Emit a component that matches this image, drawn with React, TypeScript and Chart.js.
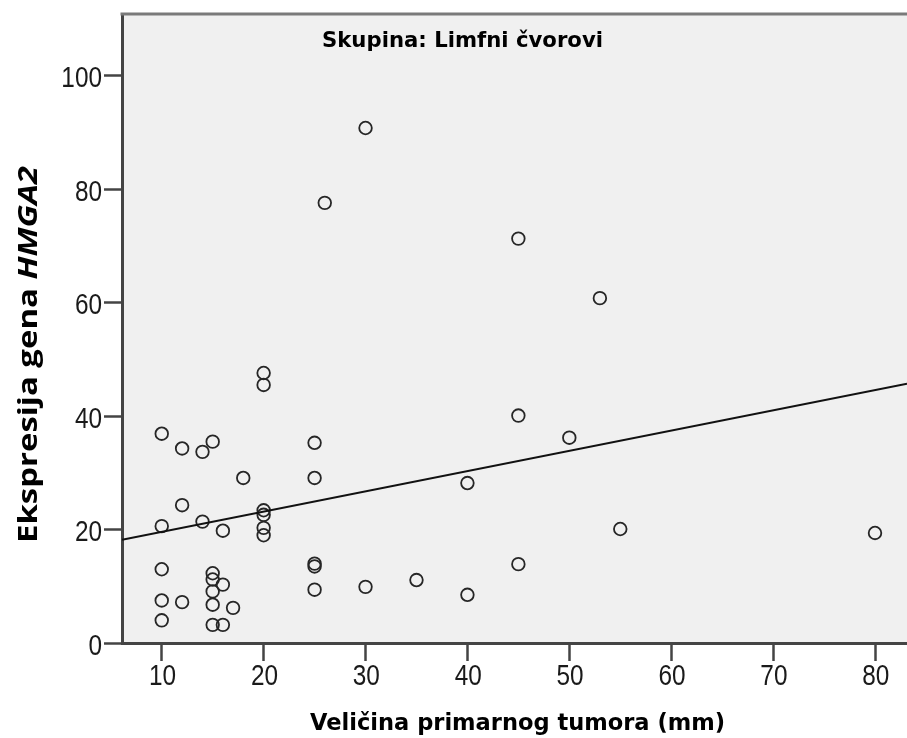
import React, { useEffect, useRef } from "react";
import { Chart, registerables } from "chart.js";

Chart.register(...registerables);

// ---- Data ----
const tumorSizeMm = [
  30, 26, 45, 53, 20, 20, 10, 12, 15, 14, 25, 45, 50, 18, 25, 12, 14, 10, 16, 20,
  20, 20, 20, 40, 55, 80, 10, 25, 25, 45, 15, 15, 16, 15, 10, 12, 15, 17, 10, 15,
  16, 25, 30, 35, 40,
];
const hmga2Expression = [
  90.8, 77.6, 71.3, 60.8, 47.6, 45.5, 36.9, 34.3, 35.5, 33.7, 35.3, 40.1, 36.2, 29.1, 29.1, 24.3, 21.4, 20.6, 19.8, 23.4,
  22.6, 20.3, 19.0, 28.2, 20.1, 19.4, 13.0, 14.0, 13.5, 13.9, 12.3, 11.2, 10.3, 9.1, 7.5, 7.2, 6.75, 6.2, 4.0, 3.2,
  3.2, 9.4, 9.9, 11.1, 8.5,
];
const xTickValues = [10, 20, 30, 40, 50, 60, 70, 80];
const yTickValues = [0, 20, 40, 60, 80, 100];
const xAxisMin = 6.1;
const xAxisMax = 83.14;
const yAxisMin = 0;
const yAxisMax = 110.9;
const fitIntercept = 16.02;
const fitSlope = 0.357;

const chartTitle = "Skupina: Limfni čvorovi";
const xTitle = "Veličina primarnog tumora (mm)";
const yTitlePlain = "Ekspresija gena ";
const yTitleItalic = "HMGA2";

const TICK_FONT = "29px 'Liberation Sans', Arial, sans-serif";
const TICK_SQUEEZE = 0.84;

type Seg = { text: string; font: string };

function drawFitted(
  ctx: CanvasRenderingContext2D,
  segs: Seg[],
  targetWidth: number,
  cx: number,
  baseline: number,
  rotate: boolean
) {
  ctx.save();
  const widths = segs.map((s) => {
    ctx.font = s.font;
    return ctx.measureText(s.text).width;
  });
  const total = widths.reduce((a, b) => a + b, 0);
  const sx = targetWidth / total;
  ctx.translate(cx, baseline);
  if (rotate) ctx.rotate(-Math.PI / 2);
  ctx.scale(sx, 1);
  ctx.fillStyle = "#000";
  ctx.textBaseline = "alphabetic";
  ctx.textAlign = "left";
  let x = -total / 2;
  segs.forEach((s, i) => {
    ctx.font = s.font;
    ctx.fillText(s.text, x, 0);
    x += widths[i];
  });
  ctx.restore();
}

function drawTickLabel(
  ctx: CanvasRenderingContext2D,
  text: string,
  x: number,
  y: number,
  align: "right" | "center"
) {
  ctx.save();
  ctx.font = TICK_FONT;
  ctx.fillStyle = "#1a1a1a";
  ctx.textBaseline = "middle";
  ctx.textAlign = align;
  ctx.translate(x, y);
  ctx.scale(TICK_SQUEEZE, 1);
  ctx.fillText(text, 0, 0);
  ctx.restore();
}

const decorPlugin = {
  id: "decor",
  beforeDraw(chart: any) {
    const { ctx, chartArea } = chart;
    const { left, top, right, bottom } = chartArea;
    ctx.save();
    ctx.fillStyle = "#F0F0F0";
    ctx.fillRect(left, top, right - left, bottom - top);
    ctx.restore();
  },
  afterDraw(chart: any) {
    const { ctx, chartArea, scales } = chart;
    const { left, top, right, bottom } = chartArea;
    ctx.save();
    ctx.strokeStyle = "#7a7a7a";
    ctx.lineWidth = 3;
    ctx.beginPath();
    ctx.moveTo(left - 1.5, top);
    ctx.lineTo(right, top);
    ctx.stroke();
    ctx.restore();

    // tick labels positioned through the library's scales
    yTickValues.forEach((v) => {
      const py = scales.y.getPixelForValue(v);
      drawTickLabel(ctx, String(v), left - 20, py + 3.5, "right");
    });
    xTickValues.forEach((v) => {
      const px = scales.x.getPixelForValue(v);
      drawTickLabel(ctx, String(v), px + 0.8, bottom + 34, "center");
    });

    drawFitted(ctx, [{ text: chartTitle, font: "bold 22px 'DejaVu Sans'" }], 281, 462.5, 47, false);
    drawFitted(ctx, [{ text: xTitle, font: "bold 23px 'DejaVu Sans'" }], 415, 517.5, 730, false);
    drawFitted(
      ctx,
      [
        { text: yTitlePlain, font: "bold 27px 'Open Sans'" },
        { text: yTitleItalic, font: "italic bold 27px 'Open Sans'" },
      ],
      377,
      37,
      354.5,
      true
    );
  },
};

function zeroPad(s: any) {
  s.paddingLeft = 0;
  s.paddingRight = 0;
  s.paddingTop = 0;
  s.paddingBottom = 0;
}

export default function App() {
  const canvasRef = useRef<HTMLCanvasElement | null>(null);

  useEffect(() => {
    const canvas = canvasRef.current;
    if (!canvas) return;
    const points = tumorSizeMm.map((x, i) => ({ x, y: hmga2Expression[i] }));
    const fitLine = [
      { x: xAxisMin, y: fitIntercept + fitSlope * xAxisMin },
      { x: xAxisMax, y: fitIntercept + fitSlope * xAxisMax },
    ];
    const chart = new Chart(canvas, {
      type: "scatter",
      data: {
        datasets: [
          {
            type: "line",
            data: fitLine,
            borderColor: "#111",
            borderWidth: 2,
            pointRadius: 0,
            showLine: true,
            fill: false,
          } as any,
          {
            type: "scatter",
            data: points,
            pointRadius: 6.3,
            pointBorderWidth: 1.8,
            pointBorderColor: "#262626",
            pointBackgroundColor: "rgba(0,0,0,0)",
          } as any,
        ],
      },
      options: {
        responsive: false,
        animation: false,
        events: [],
        layout: { autoPadding: false, padding: { top: 14, right: 0, left: 0, bottom: 0 } },
        plugins: {
          legend: { display: false },
          tooltip: { enabled: false },
          title: { display: false },
        },
        scales: {
          x: {
            type: "linear",
            min: xAxisMin,
            max: xAxisMax,
            afterFit: (s: any) => {
              s.height = 95;
              zeroPad(s);
            },
            afterBuildTicks: (s: any) => {
              s.ticks = xTickValues.map((v) => ({ value: v }));
            },
            border: { display: true, color: "#444", width: 3 },
            grid: {
              display: true,
              drawOnChartArea: false,
              drawTicks: true,
              tickLength: 18,
              tickColor: "#444",
              tickWidth: 2.5,
            },
            ticks: { display: false, autoSkip: false },
          },
          y: {
            type: "linear",
            min: yAxisMin,
            max: yAxisMax,
            afterFit: (s: any) => {
              s.width = 122;
              zeroPad(s);
            },
            afterBuildTicks: (s: any) => {
              s.ticks = yTickValues.map((v) => ({ value: v }));
            },
            border: { display: true, color: "#444", width: 3 },
            grid: {
              display: true,
              drawOnChartArea: false,
              drawTicks: true,
              tickLength: 18,
              tickColor: "#444",
              tickWidth: 2.5,
            },
            ticks: { display: false, autoSkip: false },
          },
        },
      } as any,
      plugins: [decorPlugin],
    });
    return () => chart.destroy();
  }, []);

  return (
    <div style={{ position: "absolute", left: 0, top: 0, width: 907, height: 738, background: "#fff" }}>
      <canvas ref={canvasRef} width={907} height={738} style={{ display: "block", width: 907, height: 738 }} />
    </div>
  );
}
